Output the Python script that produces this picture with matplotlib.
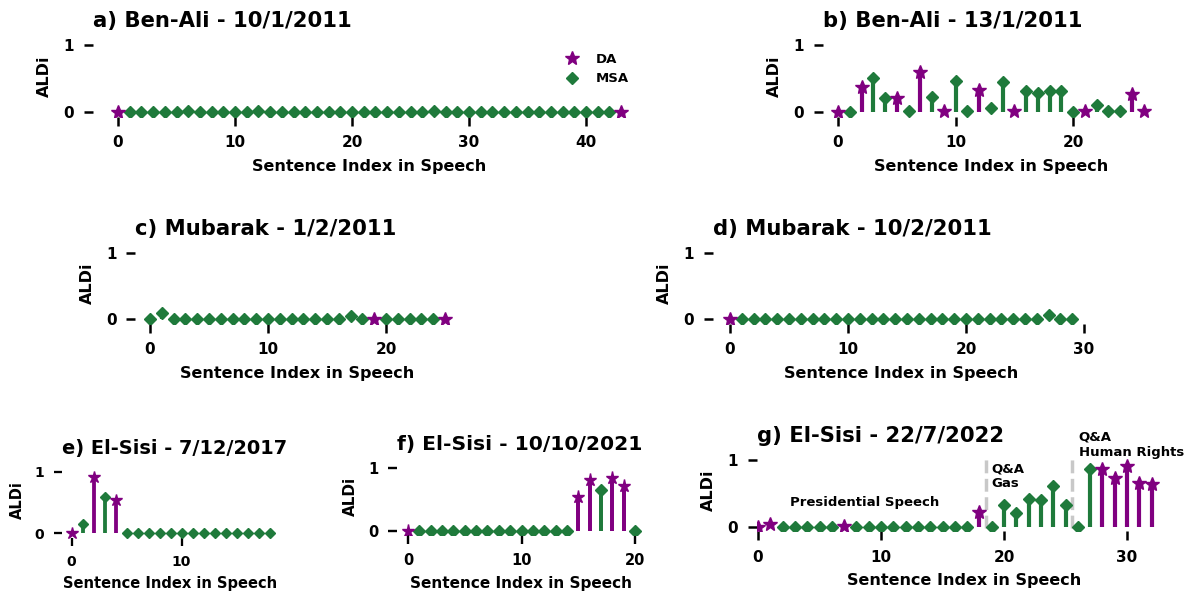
import numpy as np
import matplotlib.pyplot as plt
from matplotlib.lines import Line2D
from matplotlib.ticker import MultipleLocator

plt.rcParams['font.family'] = 'DejaVu Sans'
plt.rcParams['font.weight'] = 'bold'

DA_COLOR = '#800080'
MSA_COLOR = '#1f7a3b'

# ALDi per sentence, and the label of each sentence (D = DA, M = MSA)
a_vals = [0] * 44
a_vals[6] = a_vals[12] = a_vals[27] = 0.02
a_labels = 'D' + 'M' * 42 + 'D'

b_vals = [0.0, 0.0, 0.38, 0.50, 0.21, 0.21, 0.01, 0.59, 0.23, 0.02, 0.47, 0.01, 0.33, 0.06,
          0.45, 0.02, 0.31, 0.29, 0.31, 0.32, 0.0, 0.01, 0.10, 0.01, 0.01, 0.27, 0.01]
b_labels = 'DMDMMDMDMDMMDMMDMMMMMDMMMDD'

c_vals = [0.0, 0.085, 0, 0, 0, 0, 0, 0, 0, 0, 0, 0, 0, 0, 0, 0, 0, 0.045, 0, 0, 0, 0, 0, 0, 0, 0]
c_labels = 'M' * 19 + 'D' + 'M' * 5 + 'D'

d_vals = [0] * 27 + [0.06, 0, 0]
d_labels = 'D' + 'M' * 29

e_vals = [0.01, 0.15, 0.91, 0.59, 0.54] + [0] * 14
e_labels = 'DMDMD' + 'M' * 14

f_vals = [0] * 15 + [0.53, 0.81, 0.65, 0.84, 0.71, 0]
f_labels = 'D' + 'M' * 14 + 'DDMDDM'

g_vals = [0.0, 0.035, 0, 0, 0, 0, 0, 0.01, 0, 0, 0, 0, 0, 0, 0, 0, 0, 0, 0.22, 0.0,
          0.33, 0.20, 0.42, 0.40, 0.61, 0.32, 0.0, 0.87, 0.87, 0.73, 0.91, 0.66, 0.64]
g_labels = 'DD' + 'MMMMM' + 'D' + 'M' * 10 + 'D' + 'M' * 8 + 'M' + 'DDDDD'

titles = ['a) Ben-Ali - 10/1/2011', 'b) Ben-Ali - 13/1/2011', 'c) Mubarak - 1/2/2011',
          'd) Mubarak - 10/2/2011', 'e) El-Sisi - 7/12/2017', 'f) El-Sisi - 10/10/2021',
          'g) El-Sisi - 22/7/2022']

section_breaks = [18.5, 25.5]

W, H = 1191, 594
fig = plt.figure(figsize=(W / 100, H / 100), dpi=100)

YLO, YHI = -0.07, 1.15


def make_axes(x0, xscale, y0, y1, n, xlo=None):
    # pixel of x=0, pixels per sentence, pixel rows of ALDi 0 and 1
    if xlo is None:
        xlo = -0.05 * (n - 1)
    xhi = 1.05 * (n - 1)
    ys = y0 - y1
    left = x0 + xlo * xscale
    width = (xhi - xlo) * xscale
    bottom = y0 - YLO * ys
    top = y0 - YHI * ys
    ax = fig.add_axes([left / W, 1 - bottom / H, width / W, (bottom - top) / H])
    ax.set_xlim(xlo, xhi)
    ax.set_ylim(YLO, YHI)
    return ax


def draw(ax, vals, labels, title, s=1.0):
    vals = np.array(vals, dtype=float)
    idx = np.arange(len(vals))
    lab = np.array(list(labels))
    for key, col, mk, ms in [('M', MSA_COLOR, 'D', 6), ('D', DA_COLOR, '*', 10)]:
        sel = lab == key
        if not sel.any():
            continue
        ml, sl, bl = ax.stem(idx[sel], vals[sel], basefmt=' ')
        plt.setp(sl, color=col, linewidth=3 * s)
        plt.setp(ml, color=col, marker=mk, markersize=ms * s)
    for sp in ax.spines.values():
        sp.set_visible(False)
    ax.xaxis.set_major_locator(MultipleLocator(10))
    ax.set_yticks([0, 1])
    ax.tick_params(length=6.5 * s, width=1.8 * s, pad=7 * s, labelsize=11 * s)
    ax.set_title(title, loc='left', fontsize=15.25 * s, fontweight='bold')
    ax.set_xlabel('Sentence Index in Speech', fontsize=11.5 * s, fontweight='bold', labelpad=6 * s)
    ax.set_ylabel('ALDi', fontsize=11.5 * s, fontweight='bold', labelpad=8 * s)


ax_a = make_axes(118, 11.7, 112, 45, len(a_vals))
draw(ax_a, a_vals, a_labels, titles[0])
handles = [Line2D([], [], color=DA_COLOR, marker='*', markersize=10, linestyle='none'),
           Line2D([], [], color=MSA_COLOR, marker='D', markersize=6, linestyle='none')]
ax_a.legend(handles, ['DA', 'MSA'], loc='upper right', bbox_to_anchor=(0.99, 0.93),
            frameon=False, prop={'size': 9.5, 'weight': 'bold'})

ax_b = make_axes(838, 11.75, 112, 45, len(b_vals))
draw(ax_b, b_vals, b_labels, titles[1])

ax_c = make_axes(150, 11.8, 319, 253, len(c_vals))
draw(ax_c, c_vals, c_labels, titles[2])

ax_d = make_axes(730, 11.8, 319, 253, len(d_vals))
draw(ax_d, d_vals, d_labels, titles[3])

ax_e = make_axes(71.5, 11.0, 533.3, 471.7, len(e_vals))
draw(ax_e, e_vals, e_labels, titles[4], s=0.915)

ax_f = make_axes(408, 11.35, 531, 467.5, len(f_vals))
draw(ax_f, f_vals, f_labels, titles[5], s=0.955)

ax_g = make_axes(758, 12.3, 526.7, 460, len(g_vals), xlo=-0.1)
draw(ax_g, g_vals, g_labels, titles[6])
ax_g.vlines(section_breaks, -0.02, 1.05, colors='#c8c8c8', linestyles='--', linewidth=2.5, zorder=0)
ax_g.text(8.65, 0.365, 'Presidential Speech', ha='center', va='center', fontsize=9.5, fontweight='bold')
ax_g.text(19.0, 0.97, 'Q&A\nGas', ha='left', va='top', fontsize=9.5, fontweight='bold')
ax_g.text(26.07, 1.44, 'Q&A\nHuman Rights', ha='left', va='top', fontsize=9.5, fontweight='bold')

fig.savefig('out.png', dpi=100)
